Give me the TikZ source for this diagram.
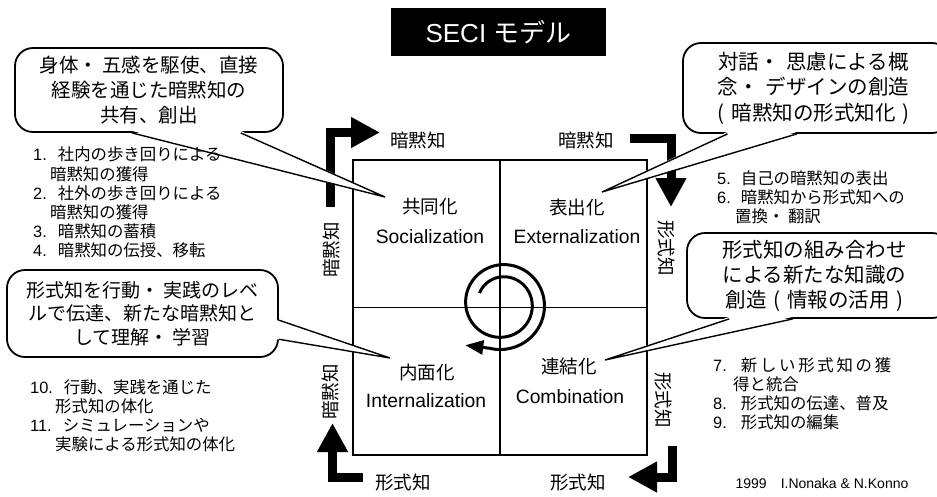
\documentclass[tikz,border=0pt]{standalone}
\usepackage{fontspec}
\setmainfont{Liberation Sans}
\newfontfamily\jp{Noto Sans CJK JP}
\usetikzlibrary{arrows.meta,calc}

\tikzset{
  bubble/.style={draw, line width=1.8pt, rounded corners=18pt, fill=white, align=center, inner sep=0pt},
  bubtxt/.style={font=\jp\fontsize{19.5}{25}\selectfont},
  quad/.style={draw, line width=1.8pt, minimum width=147pt, minimum height=147.5pt, inner sep=0pt},
  qjp/.style={font=\jp\fontsize{18.5}{22}\selectfont, inner sep=0pt},
  qen/.style={font=\fontsize{19.3}{22}\selectfont, inner sep=0pt},
  axlab/.style={font=\jp\fontsize{18.5}{22}\selectfont, inner sep=0pt},
  steps/.style={font=\fontsize{16.4}{19.2}\selectfont, align=left, inner sep=0pt, anchor=north west},
  flow/.style={line width=9pt, -{Triangle[length=29pt,width=29pt]}},
  tail/.style={line width=1.4pt},
}

\begin{document}
\begin{tikzpicture}[x=1pt, y=-1pt]
  \useasboundingbox (0,0) rectangle (937,496);
  \fill[white] (0,0) rectangle (937,496);
  \clip (0,0) rectangle (937,496);

  % title
  \node[fill=black, text=white, minimum width=215pt, minimum height=48pt, font=\fontsize{26}{30}\selectfont] (title) at (498.5,32) {SECI {\jp モデル}};

  % the four modes
  \node[quad] (soc) at (426.5,233.75) {};
  \node[quad] (ext) at (573.5,233.75) {};
  \node[quad] (int) at (426.5,381.25) {};
  \node[quad] (com) at (573.5,381.25) {};

  \node[qjp] (socjp) at (430,207) {共同化};
  \node[qen] (socen) at (430,237) {Socialization};
  \node[qjp] (extjp) at (577,207) {表出化};
  \node[qen] (exten) at (577,237) {Externalization};
  \node[qjp] (intjp) at (427,372) {内面化};
  \node[qen] (inten) at (426,401) {Internalization};
  \node[qjp] (comjp) at (569,366) {連結化};
  \node[qen] (comen) at (570,397) {Combination};

  % tacit / explicit labels
  \node[axlab] (tk1) at (418,140) {暗黙知};
  \node[axlab] (tk2) at (586,140) {暗黙知};
  \node[axlab] (ex1) at (403,483) {形式知};
  \node[axlab] (ex2) at (578,483) {形式知};
  \node[axlab, rotate=90] (tk3) at (331,250) {暗黙知};
  \node[axlab, rotate=90] (tk4) at (330,392) {暗黙知};
  \node[axlab, rotate=-90] (ex3) at (666,248) {形式知};
  \node[axlab, rotate=-90] (ex4) at (663,400) {形式知};

  % bent arrows
  \coordinate (a1) at (330,207);  \coordinate (a1c) at (330,132.5);  \coordinate (a1e) at (380,132.5);
  \coordinate (a2) at (630,138.5); \coordinate (a2c) at (671,138.5);  \coordinate (a2e) at (671,207);
  \coordinate (a3) at (672.5,446); \coordinate (a3c) at (672.5,477);  \coordinate (a3e) at (628,477);
  \coordinate (a4) at (363,477);   \coordinate (a4c) at (332.5,477);  \coordinate (a4e) at (332.5,423);
  \draw[flow] (a1) -- (a1c) -- (a1e);
  \draw[flow] (a2) -- (a2c) -- (a2e);
  \draw[flow] (a3) -- (a3c) -- (a3e);
  \draw[flow] (a4) -- (a4c) -- (a4e);

  % spiral
  \coordinate (ctr) at (502,304);
  \draw[line width=3pt, -{Triangle[length=18pt,width=14pt]}]
    plot[variable=\t, domain=0:620, samples=160, smooth] ({502+(25+21*\t/620)*cos(154-\t)}, {304-(25+21*\t/620)*sin(154-\t)}) -- ++(-24,-3);

  % speech bubbles
  \node[bubble, bubtxt, minimum width=268pt, minimum height=84pt] (bub1) at (149,90)
    {身体・ 五感を駆使、直接\\経験を通じた暗黙知の\\共有、創出};
  \node[bubble, bubtxt, font=\jp\fontsize{20.5}{25.5}\selectfont, minimum width=267pt, minimum height=90pt, text width=267pt] (bub2) at (816.5,88)
    {\hspace*{-6pt}対話・ 思慮による概\\\hspace*{-6pt}念・ デザインの創造\\\hspace*{-6pt}( 暗黙知の形式知化 )};
  \node[bubble, bubtxt, font=\jp\fontsize{20.5}{25}\selectfont, minimum width=263pt, minimum height=85pt, text width=263pt] (bub3) at (818.5,275.5)
    {\hspace*{-8pt}形式知の組み合わせ\\\hspace*{-8pt}による新たな知識の\\\hspace*{-8pt}創造 ( 情報の活用 )};
  \node[bubble, bubtxt, font=\jp\fontsize{19}{23.5}\selectfont, minimum width=271pt, minimum height=87pt] (bub4) at (142.5,313.5)
    {形式知を行動・ 実践のレベ\\ルで伝達、新たな暗黙知と\\して理解・ 学習};

  % bubble tails
  \coordinate (t1) at (385,197);
  \coordinate (b1a) at ($(bub1.south west)!0.437!(bub1.south east)$);
  \coordinate (b1b) at ($(bub1.south west)!0.84!(bub1.south east)$);
  \fill[white] ($(b1a)+(0,-2)$) -- (t1) -- ($(b1b)+(0,-2)$) -- cycle;
  \draw[tail] (b1a) -- (t1) -- (b1b);

  \coordinate (t2) at (602,192);
  \coordinate (b2a) at ($(bub2.south west)!0.169!(bub2.south east)$);
  \coordinate (b2b) at ($(bub2.south west)!0.427!(bub2.south east)$);
  \fill[white] ($(b2a)+(0,-2)$) -- (t2) -- ($(b2b)+(0,-2)$) -- cycle;
  \draw[tail] (b2a) -- (t2) -- (b2b);

  \coordinate (t3) at (605,360);
  \coordinate (b3a) at ($(bub3.south west)!0.163!(bub3.south east)$);
  \coordinate (b3b) at ($(bub3.south west)!0.403!(bub3.south east)$);
  \fill[white] ($(b3a)+(0,-2)$) -- (t3) -- ($(b3b)+(0,-2)$) -- cycle;
  \draw[tail] (b3a) -- (t3) -- (b3b);

  \coordinate (t4) at (390,358);
  \coordinate (b4a) at ($(bub4.north east)!0.575!(bub4.south east)$);
  \coordinate (b4b) at ($(bub4.north east)!0.79!(bub4.south east)$);
  \fill[white] ($(b4a)+(-2,0)$) -- (t4) -- ($(b4b)+(-2,0)$) -- cycle;
  \draw[tail] (b4a) -- (t4) -- (b4b);

  % numbered steps
  \node[steps] (st1) at (33,147) {1.\hspace{11pt}{\jp 社内の歩き回りによる}\\
    \hspace*{17pt}{\jp 暗黙知の獲得}\\
    2.\hspace{11pt}{\jp 社外の歩き回りによる}\\
    \hspace*{17pt}{\jp 暗黙知の獲得}\\
    3.\hspace{11pt}{\jp 暗黙知の蓄積}\\
    4.\hspace{11pt}{\jp 暗黙知の伝授、移転}};
  \node[steps] (st2) at (717,170) {5.\hspace{10pt}{\jp 自己の暗黙知の表出}\\
    6.\hspace{10pt}{\jp 暗黙知から形式知への}\\
    \hspace*{18pt}{\jp 置換・ 翻訳}};
  \node[steps] (st3) at (713,357) {7.\hspace{14pt}{\jp 新\,し\,い\,形\,式\,知\,の\,獲}\\
    \hspace*{20pt}{\jp 得と統合}\\
    8.\hspace{14pt}{\jp 形式知の伝達、普及}\\
    9.\hspace{14pt}{\jp 形式知の編集}};
  \node[steps] (st4) at (30,379) {10.\hspace{11pt}{\jp 行動、実践を通じた}\\
    \hspace*{25pt}{\jp 形式知の体化}\\
    11.\hspace{11pt}{\jp シミュレーションや}\\
    \hspace*{25pt}{\jp 実験による形式知の体化}};

  \node[font=\fontsize{14}{16}\selectfont, inner sep=0pt] (credit) at (822,483) {1999\hspace{14pt}I.Nonaka \& N.Konno};
\end{tikzpicture}
\end{document}
